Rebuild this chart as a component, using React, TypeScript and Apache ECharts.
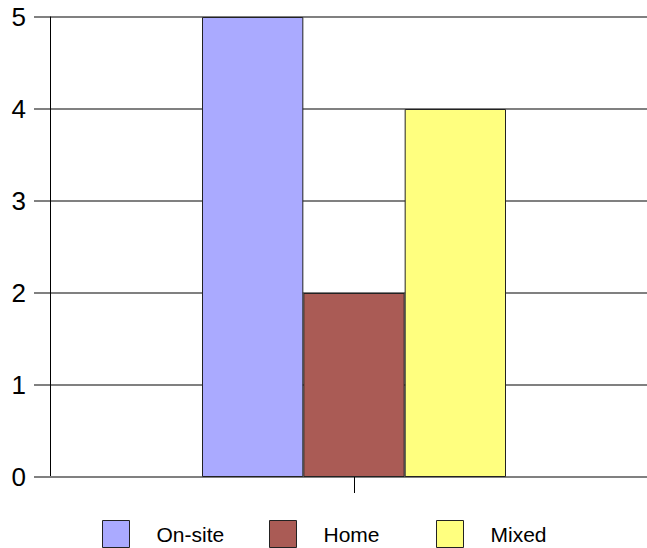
import React, { useEffect, useRef } from "react";
import * as echarts from "echarts";

const categories = [""];
const seriesNames = ["On-site", "Home", "Mixed"];
const seriesValues = [[5], [2], [4]];
const seriesColors = ["#aaaaff", "#aa5b55", "#ffff7f"];
const yTicks = { min: 0, max: 5, interval: 1 };
const legendLefts = [102, 269, 436];

export default function App() {
  const ref = useRef<HTMLDivElement>(null);

  useEffect(() => {
    if (!ref.current) return;
    const chart = echarts.init(ref.current, undefined, { renderer: "svg" });
    chart.setOption({
      animation: false,
      backgroundColor: "#ffffff",
      grid: { left: 50, right: 12, top: 17, bottom: 71, containLabel: false },
      legend: seriesNames.map((name, i) => ({
        left: legendLefts[i],
        top: 520,
        padding: 0,
        itemWidth: 27,
        itemHeight: 27,
        icon: "rect",
        data: [name],
        textStyle: {
          fontFamily: "Liberation Sans, Arial, sans-serif",
          fontSize: 21,
          color: "#000",
          padding: [0, 0, 0, 22],
        },
        itemStyle: { borderColor: "#222", borderWidth: 1 },
      })),
      xAxis: {
        type: "category",
        data: categories,
        axisLine: { show: true, lineStyle: { color: "#808080", width: 2 } },
        axisTick: { show: true, length: 16, alignWithLabel: true, lineStyle: { color: "#000", width: 1 } },
        axisLabel: { show: false },
        splitLine: { show: false },
      },
      yAxis: {
        type: "value",
        min: yTicks.min,
        max: yTicks.max,
        interval: yTicks.interval,
        axisLine: { show: true, lineStyle: { color: "#000", width: 1 } },
        axisTick: { show: true, length: 16, lineStyle: { color: "#808080", width: 2 } },
        axisLabel: {
          margin: 24,
          fontFamily: "Liberation Sans, Arial, sans-serif",
          fontSize: 26,
          color: "#000",
        },
        splitLine: { show: true, lineStyle: { color: "#808080", width: 2 } },
      },
      series: seriesNames.map((name, i) => ({
        name,
        type: "bar",
        data: seriesValues[i],
        barGap: "0%",
        barCategoryGap: "50%",
        itemStyle: { color: seriesColors[i], borderColor: "#222", borderWidth: 1 },
      })),
    });
    return () => chart.dispose();
  }, []);

  return (
    <div
      style={{ position: "fixed", left: 0, top: 0, width: 647, height: 548, overflow: "hidden", background: "#fff" }}
    >
      <div ref={ref} style={{ width: 670, height: 548 }} />
    </div>
  );
}
